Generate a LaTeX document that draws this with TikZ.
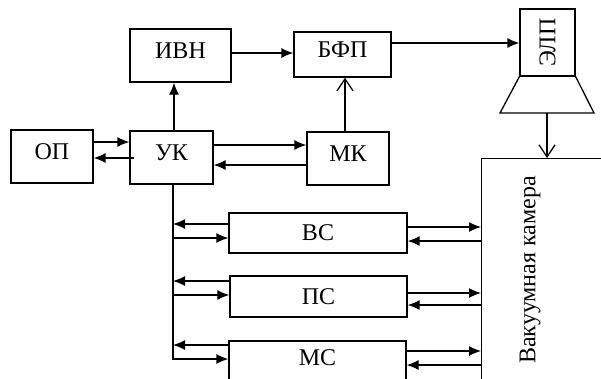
\documentclass[tikz,border=0pt]{standalone}
\usepackage{fontspec}
\setmainfont{Liberation Serif}
\usetikzlibrary{arrows.meta}
\begin{document}
\begin{tikzpicture}[x=1pt,y=-1pt,
  lw/.style={line width=1.3pt},
  box/.style={draw,lw,inner sep=0pt,font=\fontsize{24}{27}\selectfont},
  up/.style={text height=16pt,text depth=10pt},
  arr/.style={lw,-{Latex[length=12pt,width=10pt]}},
  oarr/.style={lw,-{Straight Barb[length=12pt,width=16pt]}}]
\useasboundingbox (0,0) rectangle (601,378);
% blocks
\node[box,up,minimum width=101pt,minimum height=53pt] (ivn) at (180.5,55.5) {ИВН};
\node[box,up,minimum width=97pt,minimum height=45pt] (bfp) at (342.5,54.5) {БФП};
\node[box,up,minimum width=82pt,minimum height=53pt] (op) at (52,156.5) {ОП};
\node[box,up,minimum width=83pt,minimum height=53pt] (uk) at (171.5,157.5) {УК};
\node[box,up,minimum width=82pt,minimum height=53pt] (mk) at (348,158.5) {МК};
\node[box,minimum width=55pt,minimum height=67pt] (elp) at (547.5,42.5) {\rotatebox{90}{ЭЛП}};
\node[box,minimum width=178pt,minimum height=40pt] (vs) at (318,233) {ВС};
\node[box,minimum width=177pt,minimum height=41pt] (ps) at (318.5,296.5) {ПС};
\node[box,minimum width=177pt,minimum height=60pt,text height=16pt,text depth=28pt] (ms) at (317.5,371) {МС};
\node[draw,lw,minimum width=200pt,minimum height=300pt,anchor=north west] (vk) at (481,158) {};
\node[font=\fontsize{24}{27}\selectfont] (vkt) at (530,270) {\rotatebox{90}{Вакуумная камера}};
% trapezoid under ЭЛП
\coordinate (trl) at (500,113);
\coordinate (trr) at (594,113);
\coordinate (trb) at (547,113);
\draw[lw] (elp.south west) -- (trl) -- (trr) -- (elp.south east);
% bus
\coordinate (bus) at (173,0);
\coordinate (busend) at (173,360);
\draw[lw] (bus |- uk.south) -- (busend);
% top connections
\draw[arr] (174,0 |- uk.north) -- (174,0 |- ivn.south);
\draw[arr] (ivn.east |- 0,53) -- (bfp.west |- 0,53);
\draw[oarr] (345,0 |- mk.north) -- (345,0 |- bfp.south);
\draw[arr] (bfp.east |- 0,43) -- (elp.west |- 0,43);
\draw[oarr] (trb) -- (trb |- vk.north);
% ОП / УК / МК
\draw[arr] (op.east |- 0,142) -- (uk.west |- 0,142);
\draw[arr] (134,158) -- (op.east |- 0,158);
\draw[arr] (uk.east |- 0,145) -- (mk.west |- 0,145);
\draw[arr] (mk.west |- 0,165) -- (uk.east |- 0,165);
% bus <-> subsystems
\draw[arr] (vs.west |- 0,224) -- (bus |- 0,224);
\draw[arr] (bus |- 0,238) -- (vs.west |- 0,238);
\draw[arr] (ps.west |- 0,281) -- (bus |- 0,281);
\draw[arr] (bus |- 0,295) -- (ps.west |- 0,295);
\draw[arr] (ms.west |- 0,345) -- (bus |- 0,345);
\draw[arr] (bus |- 0,359) -- (ms.west |- 0,359);
% subsystems <-> vacuum chamber
\draw[arr] (vs.east |- 0,227) -- (vk.west |- 0,227);
\draw[arr] (vk.west |- 0,241) -- (vs.east |- 0,241);
\draw[arr] (ps.east |- 0,293) -- (vk.west |- 0,293);
\draw[arr] (vk.west |- 0,305) -- (ps.east |- 0,305);
\draw[arr] (ms.east |- 0,351) -- (vk.west |- 0,351);
\draw[arr] (vk.west |- 0,365) -- (ms.east |- 0,365);
\end{tikzpicture}
\end{document}
